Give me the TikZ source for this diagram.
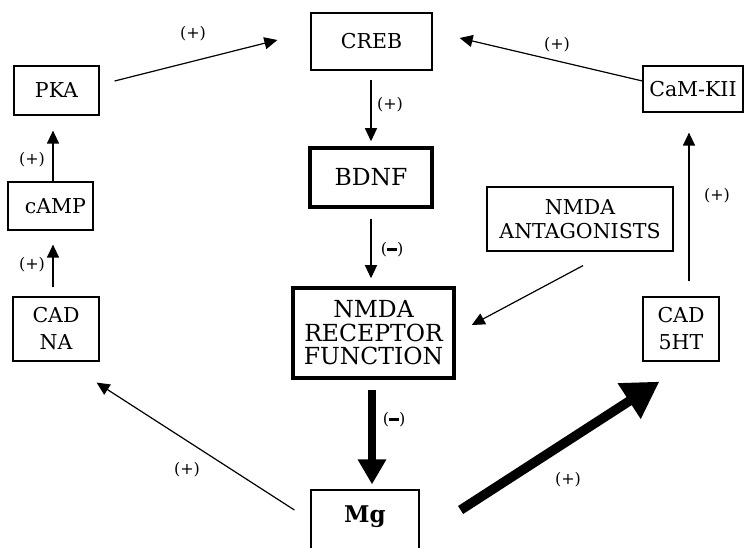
\documentclass[tikz,border=0pt]{standalone}
\usepackage{fontspec}
\setmainfont{DejaVu Serif}
\usetikzlibrary{arrows.meta,calc}
\newcommand{\mydash}{\raisebox{4.2pt}{\rule{10pt}{2.2pt}}}
\tikzset{
  box/.style={draw, line width=1.2pt, inner sep=0pt, align=center, font=\fontsize{20.5}{24}\selectfont},
  twoline/.style={font=\fontsize{20.5}{27}\selectfont},
  thickbox/.style={box, line width=3.5pt, font=\fontsize{23.5}{23.5}\selectfont},
  lbl/.style={font=\fontsize{16}{18}\selectfont, inner sep=0pt},
  arr/.style={line width=1.2pt, -{Triangle[length=13pt,width=12pt]}},
  bigarr/.style={line width=8pt, -{Triangle[length=25pt,width=27pt]}},
  hugearr/.style={line width=9.5pt, -{Triangle[length=36pt,width=40pt]}},
}
\begin{document}
\begin{tikzpicture}[x=1pt,y=-1pt]
\clip (0,0) rectangle (745,548);
\fill[white] (0,0) rectangle (745,548);
% boxes
\node[box, minimum width=121pt, minimum height=57pt] (creb) at (371.5,41.5) {CREB};
\node[box, minimum width=85pt, minimum height=49pt] (pka) at (56.5,90.5) {PKA};
\node[box, minimum width=85pt, minimum height=48pt] (camp) at (50.5,206) {\hspace*{10pt}cAMP};
\node[box, twoline, minimum width=86pt, minimum height=64pt] (cadna) at (56,329) {CAD\\NA};
\node[thickbox, minimum width=122pt, minimum height=59pt] (bdnf) at (371,177.5) {BDNF};
\node[thickbox, minimum width=161pt, minimum height=90pt] (nrf) at (373.5,333) {NMDA\\RECEPTOR\\FUNCTION};
\node[box, minimum width=186pt, minimum height=64pt] (ant) at (580,219) {NMDA\\ANTAGONISTS};
\node[box, minimum width=100pt, minimum height=46pt] (camk) at (693,89) {CaM-KII};
\node[box, twoline, minimum width=76pt, minimum height=64pt] (cad5) at (681,329) {CAD\\5HT};
\node[box, minimum width=108pt, minimum height=70pt,
  label={[name=mgtext, anchor=center, yshift=-27pt, font=\fontsize{23}{23}\selectfont\bfseries]north:Mg}] (mg) at (365,525) {};
% connectors
\draw[arr] ($(pka.east)+(15,-9.5)$) -- ($(creb.west)+(-33,-1.5)$);
\draw[arr] ($(camk.west)+(0,-8)$) -- ($(creb.east)+(27,-3.5)$);
\draw[arr] ($(creb.south)+(-0.5,9)$) -- ($(bdnf.north)+(0,-5)$);
\draw[arr] ($(bdnf.south)+(0,10)$) -- ($(nrf.north)+(-2.5,-8)$);
\draw[arr] ($(ant.south)+(3,14)$) -- ($(nrf.east)+(16,-8)$);
\draw[arr] ($(cad5.north)+(8,-15)$) -- ($(camk.south)+(-4,20)$);
\draw[arr] ($(camp.north)+(2.5,0)$) -- ($(pka.south)+(-3.5,15)$);
\draw[arr] ($(cadna.north)+(-3,-9)$) -- ($(camp.south)+(2.5,14)$);
\draw[arr] ($(mg.west)+(-16,-15)$) -- ($(cadna.south east)+(-3,21)$);
\draw[bigarr] ($(nrf.south)+(-1.5,10)$) -- ($(mg.north)+(7,-5)$);
\draw[hugearr] ($(mg.east)+(41,-15)$) -- ($(cad5.south west)+(17,20)$);
% labels
\node[lbl] (l1) at (193,34) {(+)};
\node[lbl] (l2) at (557,45) {(+)};
\node[lbl] (l3) at (390,105) {(+)};
\node[lbl] (l4) at (392,250) {(\mydash)};
\node[lbl] (l5) at (32,160) {(+)};
\node[lbl] (l6) at (32,265) {(+)};
\node[lbl] (l7) at (717,196) {(+)};
\node[lbl] (l8) at (187,470) {(+)};
\node[lbl] (l9) at (394,420) {(\mydash)};
\node[lbl] (l10) at (568,480) {(+)};
\end{tikzpicture}
\end{document}
